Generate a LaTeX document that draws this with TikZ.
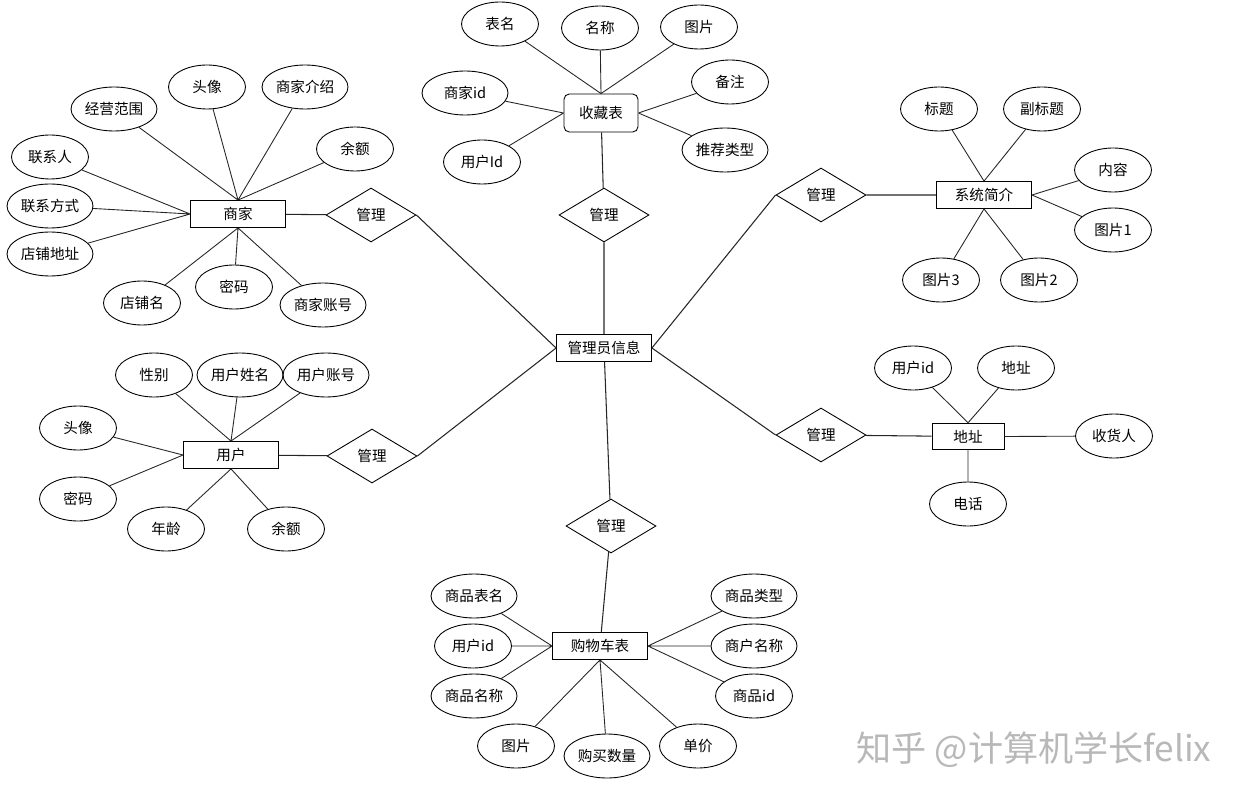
\documentclass[tikz,border=0pt]{standalone}
\usepackage{fontspec}
\setmainfont{Noto Sans CJK SC}
\usetikzlibrary{shapes.geometric}
\begin{document}
\begin{tikzpicture}[x=.02cm,y=-.02cm,
 every node/.style={font=\fontsize{8.3}{10}\selectfont,inner sep=0pt},
 ent/.style={draw,line width=.5pt,minimum width=1.9cm,minimum height=.54cm},
 rel/.style={draw,diamond,line width=.5pt,minimum width=1.8cm,minimum height=1.08cm},
 attr/.style={draw,ellipse,line width=.5pt,minimum width=1.54cm,minimum height=.88cm},
 attrl/.style={attr,minimum width=1.72cm},
 link/.style={draw=black!85,line width=.5pt}]
\useasboundingbox (0,0) rectangle (1253,800);
\node[ent] (admin) at (604,348) {管理员信息};
\node[ent] (merchant) at (238,214) {商家};
\node[rel] (relm) at (371,215) {管理};
\node[attrl] (mscope) at (114,109) {经营范围};
\node[attr] (mavatar) at (207,87) {头像};
\node[attrl] (mintro) at (305,87) {商家介绍};
\node[attr] (mbal) at (355,149) {余额};
\node[attr] (mcontact) at (50,157) {联系人};
\node[attrl] (mphone) at (50,206) {联系方式};
\node[attrl] (maddr) at (50,254) {店铺地址};
\node[attr] (mshop) at (142,303) {店铺名};
\node[attr] (mpwd) at (234,287) {密码};
\node[attrl] (macct) at (323,305) {商家账号};
\node[ent,rounded corners=3pt,minimum width=1.48cm,minimum height=.76cm] (collect) at (601,113) {收藏表};
\node[rel] (relc) at (604,215) {管理};
\node[attr] (ctable) at (500,24) {表名};
\node[attr] (cname) at (600,28) {名称};
\node[attr] (cpic) at (699,27) {图片};
\node[attrl] (cmid) at (465,93) {商家id};
\node[attr] (cnote) at (730,82) {备注};
\node[attr] (cuid) at (482,162) {用户Id};
\node[attrl] (ctype) at (725,150) {推荐类型};
\node[ent] (intro) at (984,195) {系统简介};
\node[rel] (reli) at (821,195) {管理};
\node[attr] (ititle) at (939,109) {标题};
\node[attr] (isub) at (1042,109) {副标题};
\node[attr] (itext) at (1113,170) {内容};
\node[attr] (ipic1) at (1113,230) {图片1};
\node[attr] (ipic3) at (941,280) {图片3};
\node[attr] (ipic2) at (1039,280) {图片2};
\node[ent] (user) at (231,455) {用户};
\node[rel] (relu) at (372,456) {管理};
\node[attr] (usex) at (154,375) {性别};
\node[attrl] (uname) at (240,375) {用户姓名};
\node[attrl] (uacct) at (326,375) {用户账号};
\node[attr] (uavatar) at (78,428) {头像};
\node[attr] (upwd) at (78,499) {密码};
\node[attr] (uage) at (166,529) {年龄};
\node[attr] (ubal) at (286,529) {余额};
\node[ent,minimum width=1.44cm,minimum height=.53cm] (addr) at (968,436.5) {地址};
\node[rel] (rela) at (821,435) {管理};
\node[attr] (auid) at (913,368) {用户id};
\node[attr] (aaddr) at (1016,368) {地址};
\node[attr] (arecv) at (1114,436) {收货人};
\node[attr] (atel) at (968,504) {电话};
\node[ent] (cart) at (600,646) {购物车表};
\node[rel] (relg) at (611,526) {管理};
\node[attrl] (gtable) at (474,596) {商品表名};
\node[attr] (guid) at (473,646) {用户id};
\node[attrl] (gname) at (474,696) {商品名称};
\node[attr] (gpic) at (516,746) {图片};
\node[attrl] (gnum) at (607,756) {购买数量};
\node[attr] (gprice) at (698,746) {单价};
\node[attrl] (gtype) at (754,596) {商品类型};
\node[attrl] (gshop) at (754,646) {商户名称};
\node[attr] (gid) at (754,696) {商品id};
\node[text=black!28,font=\fontsize{20}{24}\selectfont] (mark) at (1034,750) {知乎 @计算机学长felix};
\draw[link] (merchant.north) -- (mscope) (merchant.north) -- (mavatar) (merchant.north) -- (mintro) (merchant.north) -- (mbal)
 (merchant.west) -- (mcontact) (merchant.west) -- (mphone) (merchant.west) -- (maddr)
 (merchant.south) -- (mshop) (merchant.south) -- (mpwd) (merchant.south) -- (macct);
\draw[link] (collect.north) -- (ctable) (collect.north) -- (cname) (collect.north) -- (cpic)
 (collect.west) -- (cmid) (collect.west) -- (cuid) (collect.east) -- (cnote) (collect.east) -- (ctype);
\draw[link] (intro.north) -- (ititle) (intro.north) -- (isub) (intro.east) -- (itext) (intro.east) -- (ipic1)
 (intro.south) -- (ipic3) (intro.south) -- (ipic2);
\draw[link] (user.north) -- (usex) (user.north) -- (uname) (user.north) -- (uacct)
 (user.west) -- (uavatar) (user.west) -- (upwd) (user.south) -- (uage) (user.south) -- (ubal);
\draw[link] (addr.north) -- (auid) (addr.north) -- (aaddr) (addr.east) -- (arecv) (addr.south) -- (atel);
\draw[link] (cart.west) -- (gtable) (cart.west) -- (guid) (cart.west) -- (gname)
 (cart.south) -- (gpic) (cart.south) -- (gnum) (cart.south) -- (gprice)
 (cart.east) -- (gtype) (cart.east) -- (gshop) (cart.east) -- (gid);
\draw[link,line width=.6pt] (merchant) -- (relm) (relm.east) -- (admin.west)
 (collect) -- (relc) (relc) -- (admin)
 (reli) -- (intro) (reli.west) -- (admin.east)
 (user) -- (relu) (relu.east) -- (admin.west)
 (rela) -- (addr) (rela.west) -- (admin.east)
 (relg) -- (cart) (relg) -- (admin);
\end{tikzpicture}
\end{document}
